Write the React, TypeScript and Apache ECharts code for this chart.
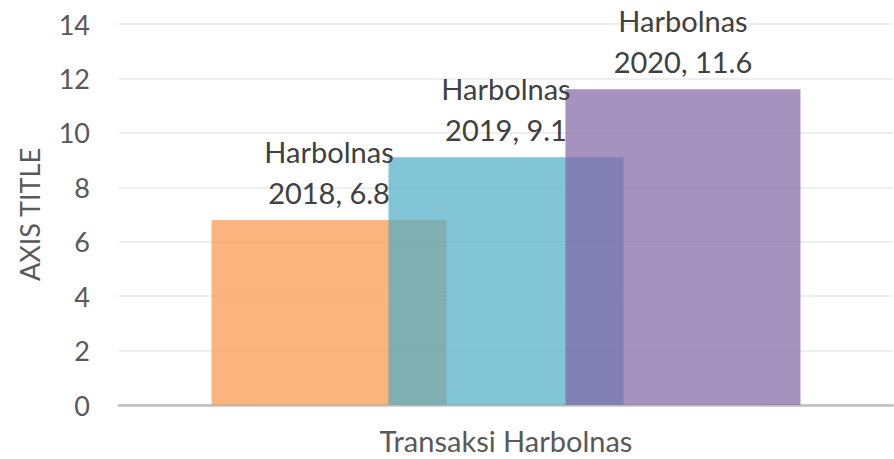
import React, { useEffect, useRef } from "react";
import * as echarts from "echarts";

const categories = ["Transaksi Harbolnas"];
const seriesNames = ["Harbolnas 2018", "Harbolnas 2019", "Harbolnas 2020"];
const values = [6.8, 9.1, 11.6];
const colors = ["rgba(247,150,70,0.7)", "rgba(75,172,198,0.7)", "rgba(128,100,162,0.7)"];
const yTicks = { min: 0, max: 14, interval: 2 };
const yAxisTitle = "AXIS TITLE";

const FONT = "Lato, 'Open Sans', sans-serif";

export default function App() {
  const ref = useRef<HTMLDivElement>(null);
  useEffect(() => {
    document.body.style.margin = "0";
    if (!ref.current) return;
    const chart = echarts.init(ref.current, undefined, { renderer: "svg" });
    chart.setOption({
      animation: false,
      backgroundColor: "#ffffff",
      textStyle: { fontFamily: FONT },
      grid: { left: 119, right: 1, top: 24, bottom: 54 },
      xAxis: {
        type: "category",
        data: categories,
        axisLine: { show: true, lineStyle: { color: "#BFBFBF", width: 2.5 } },
        axisTick: { show: false },
        axisLabel: { fontSize: 29, color: "#595959", margin: 21, fontFamily: FONT },
      },
      yAxis: {
        type: "value",
        min: yTicks.min,
        max: yTicks.max,
        interval: yTicks.interval,
        name: yAxisTitle,
        nameLocation: "middle",
        nameGap: 76,
        nameRotate: 90,
        nameTextStyle: { fontSize: 27, color: "#595959", fontFamily: FONT },
        axisLine: { show: false },
        axisTick: { show: false },
        axisLabel: { fontSize: 27, color: "#595959", margin: 29, fontFamily: FONT },
        splitLine: { lineStyle: { color: "#E9E9E9", width: 1.5 } },
      },
      series: seriesNames.map((name, i) => ({
        type: "bar",
        name,
        data: [values[i]],
        barWidth: 235,
        barGap: "-24.7%",
        itemStyle: { color: colors[i] },
        label: {
          show: true,
          position: "top",
          distance: 7,
          fontSize: 29,
          lineHeight: 41,
          color: "#404040",
          fontFamily: FONT,
          formatter: (p: any) => p.seriesName.replace(" ", "\n") + ", " + p.value,
        },
      })),
    });
    return () => chart.dispose();
  }, []);
  return <div ref={ref} style={{ width: 894, height: 459 }} />;
}
